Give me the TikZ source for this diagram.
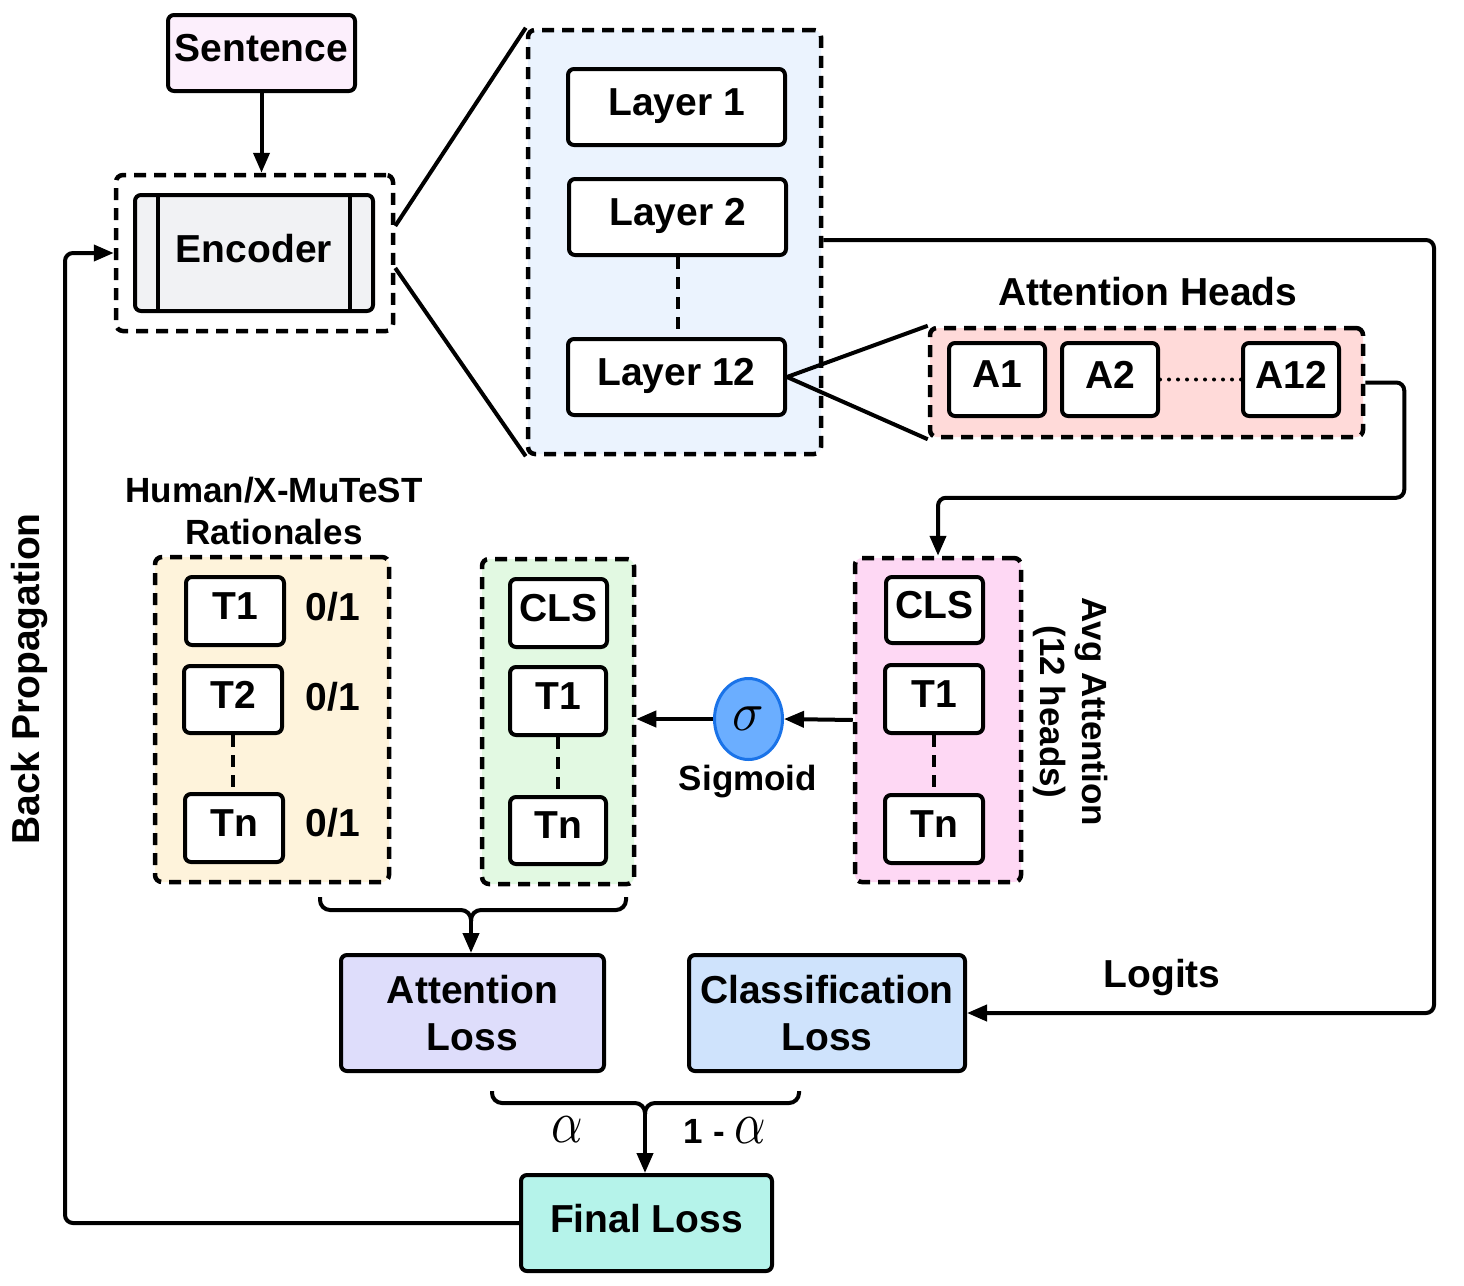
\documentclass[tikz,border=0pt]{standalone}
\usepackage{fontspec}
\usepackage{graphicx}
\setmainfont{Liberation Sans}
\usetikzlibrary{arrows.meta,calc,shapes.geometric}
\definecolor{cSent}{HTML}{FCEFFC}
\definecolor{cEnc}{HTML}{F1F2F4}
\definecolor{cLay}{HTML}{EBF3FE}
\definecolor{cHead}{HTML}{FFDAD9}
\definecolor{cAvg}{HTML}{FED8F4}
\definecolor{cGrn}{HTML}{E2F9E2}
\definecolor{cRat}{HTML}{FEF3DB}
\definecolor{cAtt}{HTML}{DEDDFB}
\definecolor{cCls}{HTML}{CFE3FC}
\definecolor{cFin}{HTML}{B5F3EA}
\definecolor{cSig}{HTML}{6BAEFF}
\definecolor{cSigB}{HTML}{1A73E8}
\newcommand\fbig{\fontsize{39}{47}\selectfont\bfseries}
\newcommand\fsm{\fontsize{35}{42}\selectfont\bfseries}
\newcommand\bigalpha{\scalebox{4.9}[6]{\normalsize$\alpha$}}
\begin{document}
\begin{tikzpicture}[x=1pt,y=-1pt,
  lw/.style={line width=4pt},
  box/.style={draw, line width=4pt, rounded corners=6pt, fill=white, inner sep=0pt, font=\fbig, align=center},
  tb/.style={text depth=10pt},
  dbox/.style={draw, line width=4.5pt, rounded corners=7pt, dash pattern=on 12pt off 8pt, inner sep=0pt},
  dline/.style={line width=4pt, dash pattern=on 12pt off 8pt},
  arr/.style={line width=4pt, -{Triangle[length=20pt,width=16pt]}},
  lbl/.style={font=\fbig, inner sep=0pt, align=center},
  slbl/.style={font=\fsm, inner sep=0pt, align=center}]
\useasboundingbox (0,0) rectangle (1464,1285);

% Sentence and encoder
\node[box, tb, fill=cSent, minimum width=187pt, minimum height=76pt] (sent) at (261.5,53) {Sentence};
\node[dbox, minimum width=277pt, minimum height=156pt] (encout) at (254.5,253) {};
\node[box, tb, fill=cEnc, minimum width=238pt, minimum height=116pt] (enc) at (254,253) {Encoder};
\draw[lw] ([xshift=-96pt]enc.north) -- ([xshift=-96pt]enc.south);
\draw[lw] ([xshift=96pt]enc.north) -- ([xshift=96pt]enc.south);
\draw[arr] (sent.south) -- (sent.south |- encout.north);

% Layers panel
\node[dbox, fill=cLay, minimum width=293pt, minimum height=424pt] (panel) at (674.5,242) {};
\node[box, tb, minimum width=217pt, minimum height=76pt] (L1) at (676.5,107) {Layer 1};
\node[box, tb, minimum width=217pt, minimum height=76pt] (L2) at (677.5,217) {Layer 2};
\node[box, tb, minimum width=217pt, minimum height=76pt] (L12) at (676.5,377) {Layer 12};
\draw[dline] (L2.south) -- (L2.south |- L12.north);
\draw[lw] ([yshift=27pt]encout.east) -- (panel.north west);
\draw[lw] ([yshift=-15pt]encout.east) -- (panel.south west);

% Attention heads
\node[lbl] (hlab) at (1148,292) {Attention Heads};
\node[dbox, fill=cHead, minimum width=433pt, minimum height=109pt] (heads) at (1146.5,382.5) {};
\node[box, tb, minimum width=96pt, minimum height=73pt] (A1) at (997,379.5) {A1};
\node[box, tb, minimum width=96pt, minimum height=73pt] (A2) at (1110,379.5) {A2};
\node[box, tb, minimum width=96pt, minimum height=73pt] (A12) at (1291,379.5) {A12};
\draw[line width=4pt, dash pattern=on 0pt off 9pt, line cap=round] (A2.east) -- (A12.west);
\draw[lw] (L12.east) -- (heads.north west);
\draw[lw] (L12.east) -- (heads.south west);

% Avg attention
\node[dbox, fill=cAvg, minimum width=166pt, minimum height=324pt] (avg) at (938,720) {};
\node[box, tb, minimum width=97pt, minimum height=66pt] (aCLS) at (934.5,610) {CLS};
\node[box, tb, minimum width=98pt, minimum height=68pt] (aT1) at (934,699) {T1};
\node[box, tb, minimum width=98pt, minimum height=68pt] (aTn) at (934,829) {Tn};
\draw[dline] (aT1.south) -- (aTn.north);
\node[slbl, rotate=-90] (avglab) at (1071,712) {Avg Attention\\(12 heads)};
\draw[arr, rounded corners=8pt] (heads.east) -- ++(39,0) |- ($(avg.north)+(0,-58)$) -- (avg.north);

% Sigmoid
\node[ellipse, draw=cSigB, fill=cSig, line width=3pt, minimum width=68pt, minimum height=81pt, inner sep=0pt] (sig) at (748.5,719) {\scalebox{5.2}[5.5]{\normalsize$\sigma$}};
\node[slbl] (siglab) at (748,782) {Sigmoid};

% Green box
\node[dbox, fill=cGrn, minimum width=152pt, minimum height=325pt] (grn) at (558,721.5) {};
\node[box, tb, minimum width=97pt, minimum height=68pt] (gCLS) at (558.5,613) {CLS};
\node[box, tb, minimum width=96pt, minimum height=68pt] (gT1) at (558,701) {T1};
\node[box, tb, minimum width=96pt, minimum height=67pt] (gTn) at (558,830.5) {Tn};
\draw[dline] (gT1.south) -- (gTn.north);
\draw[arr] (avg.west) -- (sig.east);
\draw[arr] (sig.west) -- (sig.west -| grn.east);

% Rationales
\node[slbl] (ratlab) at (274,511) {Human/X-MuTeST\\Rationales};
\node[dbox, fill=cRat, minimum width=234pt, minimum height=325pt] (rat) at (272,719.5) {};
\node[box, tb, minimum width=98pt, minimum height=68pt] (rT1) at (235,611) {T1};
\node[box, tb, minimum width=98pt, minimum height=67pt] (rT2) at (233,699.5) {T2};
\node[box, tb, minimum width=98pt, minimum height=68pt] (rTn) at (234,828) {Tn};
\draw[dline] (rT2.south) -- (rT2.south |- rTn.north);
\node[lbl] (r1) at (333,607) {0/1};
\node[lbl] (r2) at (333,697) {0/1};
\node[lbl] (r3) at (333,823) {0/1};

% Brace 1
\draw[lw, rounded corners=10pt] (320,897) -- (320,910) -- (471,910) -- (471,921);
\draw[lw, rounded corners=10pt] (626,897) -- (626,910) -- (471,910) -- (471,921);
\coordinate (b1) at (471,916);

% Losses
\node[box, fill=cAtt, minimum width=263pt, minimum height=116pt] (att) at (472.5,1013) {Attention\\Loss};
\node[box, fill=cCls, minimum width=276pt, minimum height=116pt] (cls) at (827,1013) {Classification\\Loss};
\draw[arr] (b1) -- (b1 |- att.north);

% Logits
\coordinate (rx) at (1434,0);
\draw[arr, rounded corners=8pt] ([yshift=2pt]panel.east) -- ([yshift=2pt]panel.east -| rx) |- (cls.east);
\node[lbl] (logits) at (1162,977) {Logits};

% Brace 2
\draw[lw, rounded corners=10pt] (492,1091) -- (492,1103) -- (645,1103) -- (645,1114);
\draw[lw, rounded corners=10pt] (799,1091) -- (799,1103) -- (645,1103) -- (645,1114);
\coordinate (b2) at (645,1109);
\node[box, tb, fill=cFin, minimum width=251pt, minimum height=96pt] (fin) at (646.5,1223) {Final Loss};
\draw[arr] (b2) -- (b2 |- fin.north);
\node[inner sep=0pt] (al1) at (567.5,1130) {\bigalpha};
\node[inner sep=0pt, anchor=base] (al2) at (725,1143) {\fsm 1 - \bigalpha};

% Back propagation
\coordinate (lx) at (65,0);
\draw[arr, rounded corners=8pt] (fin.west) -| (lx |- encout.west) -- (encout.west);
\node[lbl, rotate=90] (bp) at (30,679) {Back Propagation};
\end{tikzpicture}
\end{document}
